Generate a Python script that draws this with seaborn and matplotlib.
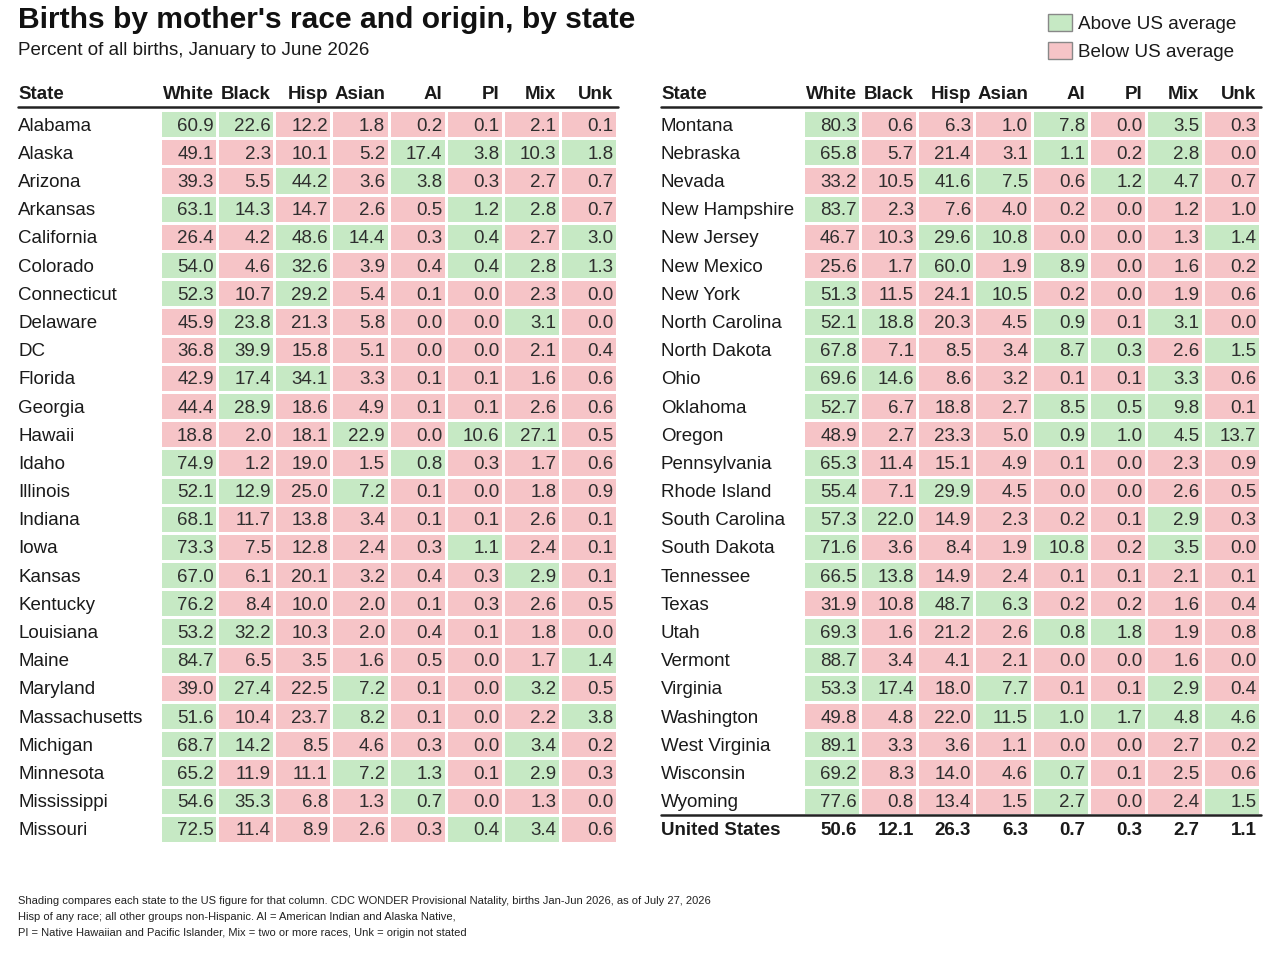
#!/usr/bin/env python3
"""Births by mother's race and origin, by state - shaded table."""
import numpy as np
import pandas as pd
import seaborn as sns
import matplotlib.pyplot as plt
from matplotlib.colors import ListedColormap
from matplotlib.lines import Line2D
from matplotlib.patches import Patch
from matplotlib.transforms import blended_transform_factory

sns.set_theme(style="white")
plt.rcParams["font.family"] = ["Liberation Sans", "DejaVu Sans"]

columns = ["White", "Black", "Hisp", "Asian", "AI", "PI", "Mix", "Unk"]

states = [
    "Alabama", "Alaska", "Arizona", "Arkansas", "California", "Colorado",
    "Connecticut", "Delaware", "DC", "Florida", "Georgia", "Hawaii", "Idaho",
    "Illinois", "Indiana", "Iowa", "Kansas", "Kentucky", "Louisiana", "Maine",
    "Maryland", "Massachusetts", "Michigan", "Minnesota", "Mississippi",
    "Missouri", "Montana", "Nebraska", "Nevada", "New Hampshire", "New Jersey",
    "New Mexico", "New York", "North Carolina", "North Dakota", "Ohio",
    "Oklahoma", "Oregon", "Pennsylvania", "Rhode Island", "South Carolina",
    "South Dakota", "Tennessee", "Texas", "Utah", "Vermont", "Virginia",
    "Washington", "West Virginia", "Wisconsin", "Wyoming",
]

white = [60.9, 49.1, 39.3, 63.1, 26.4, 54.0, 52.3, 45.9, 36.8, 42.9, 44.4, 18.8, 74.9,
         52.1, 68.1, 73.3, 67.0, 76.2, 53.2, 84.7, 39.0, 51.6, 68.7, 65.2, 54.6, 72.5,
         80.3, 65.8, 33.2, 83.7, 46.7, 25.6, 51.3, 52.1, 67.8, 69.6, 52.7, 48.9, 65.3,
         55.4, 57.3, 71.6, 66.5, 31.9, 69.3, 88.7, 53.3, 49.8, 89.1, 69.2, 77.6]
black = [22.6, 2.3, 5.5, 14.3, 4.2, 4.6, 10.7, 23.8, 39.9, 17.4, 28.9, 2.0, 1.2,
         12.9, 11.7, 7.5, 6.1, 8.4, 32.2, 6.5, 27.4, 10.4, 14.2, 11.9, 35.3, 11.4,
         0.6, 5.7, 10.5, 2.3, 10.3, 1.7, 11.5, 18.8, 7.1, 14.6, 6.7, 2.7, 11.4,
         7.1, 22.0, 3.6, 13.8, 10.8, 1.6, 3.4, 17.4, 4.8, 3.3, 8.3, 0.8]
hisp = [12.2, 10.1, 44.2, 14.7, 48.6, 32.6, 29.2, 21.3, 15.8, 34.1, 18.6, 18.1, 19.0,
        25.0, 13.8, 12.8, 20.1, 10.0, 10.3, 3.5, 22.5, 23.7, 8.5, 11.1, 6.8, 8.9,
        6.3, 21.4, 41.6, 7.6, 29.6, 60.0, 24.1, 20.3, 8.5, 8.6, 18.8, 23.3, 15.1,
        29.9, 14.9, 8.4, 14.9, 48.7, 21.2, 4.1, 18.0, 22.0, 3.6, 14.0, 13.4]
asian = [1.8, 5.2, 3.6, 2.6, 14.4, 3.9, 5.4, 5.8, 5.1, 3.3, 4.9, 22.9, 1.5,
         7.2, 3.4, 2.4, 3.2, 2.0, 2.0, 1.6, 7.2, 8.2, 4.6, 7.2, 1.3, 2.6,
         1.0, 3.1, 7.5, 4.0, 10.8, 1.9, 10.5, 4.5, 3.4, 3.2, 2.7, 5.0, 4.9,
         4.5, 2.3, 1.9, 2.4, 6.3, 2.6, 2.1, 7.7, 11.5, 1.1, 4.6, 1.5]
ai = [0.2, 17.4, 3.8, 0.5, 0.3, 0.4, 0.1, 0.0, 0.0, 0.1, 0.1, 0.0, 0.8,
      0.1, 0.1, 0.3, 0.4, 0.1, 0.4, 0.5, 0.1, 0.1, 0.3, 1.3, 0.7, 0.3,
      7.8, 1.1, 0.6, 0.2, 0.0, 8.9, 0.2, 0.9, 8.7, 0.1, 8.5, 0.9, 0.1,
      0.0, 0.2, 10.8, 0.1, 0.2, 0.8, 0.0, 0.1, 1.0, 0.0, 0.7, 2.7]
pi = [0.1, 3.8, 0.3, 1.2, 0.4, 0.4, 0.0, 0.0, 0.0, 0.1, 0.1, 10.6, 0.3,
      0.0, 0.1, 1.1, 0.3, 0.3, 0.1, 0.0, 0.0, 0.0, 0.0, 0.1, 0.0, 0.4,
      0.0, 0.2, 1.2, 0.0, 0.0, 0.0, 0.0, 0.1, 0.3, 0.1, 0.5, 1.0, 0.0,
      0.0, 0.1, 0.2, 0.1, 0.2, 1.8, 0.0, 0.1, 1.7, 0.0, 0.1, 0.0]
mix = [2.1, 10.3, 2.7, 2.8, 2.7, 2.8, 2.3, 3.1, 2.1, 1.6, 2.6, 27.1, 1.7,
       1.8, 2.6, 2.4, 2.9, 2.6, 1.8, 1.7, 3.2, 2.2, 3.4, 2.9, 1.3, 3.4,
       3.5, 2.8, 4.7, 1.2, 1.3, 1.6, 1.9, 3.1, 2.6, 3.3, 9.8, 4.5, 2.3,
       2.6, 2.9, 3.5, 2.1, 1.6, 1.9, 1.6, 2.9, 4.8, 2.7, 2.5, 2.4]
unk = [0.1, 1.8, 0.7, 0.7, 3.0, 1.3, 0.0, 0.0, 0.4, 0.6, 0.6, 0.5, 0.6,
       0.9, 0.1, 0.1, 0.1, 0.5, 0.0, 1.4, 0.5, 3.8, 0.2, 0.3, 0.0, 0.6,
       0.3, 0.0, 0.7, 1.0, 1.4, 0.2, 0.6, 0.0, 1.5, 0.6, 0.1, 13.7, 0.9,
       0.5, 0.3, 0.0, 0.1, 0.4, 0.8, 0.0, 0.4, 4.6, 0.2, 0.6, 1.5]

us_total = [50.6, 12.1, 26.3, 6.3, 0.7, 0.3, 2.7, 1.1]

# rounded ties where the unrounded state figure sits above the US figure
ties_above = [("Texas", "Asian"), ("Mississippi", "AI"),
              ("Wisconsin", "AI"), ("North Dakota", "PI")]

GREEN = "#c6e9c4"
PINK = "#f6c4c7"
NUM_COLOR = "#2e2e2e"
TEXT_COLOR = "#1a1a1a"
FS = 13.5


def build_frame():
    df = pd.DataFrame({"White": white, "Black": black, "Hisp": hisp, "Asian": asian,
                       "AI": ai, "PI": pi, "Mix": mix, "Unk": unk}, index=states)
    flags = df.copy()
    for c, us in zip(columns, us_total):
        flags[c] = (df[c] > us).astype(float)
        for st, col in ties_above:
            if col == c and df.loc[st, c] == us:
                flags.loc[st, c] = 1.0
    return df, flags


def draw_table(fig, ax, vals, flags, label_x, total=None):
    flags = flags.copy()
    mask = np.zeros(flags.shape, dtype=bool)
    if total is not None:
        flags.loc["United States"] = np.nan
        mask = flags.isna().values
    cmap = ListedColormap([PINK, GREEN])
    sns.heatmap(flags, ax=ax, cmap=cmap, vmin=0, vmax=1, cbar=False, mask=mask,
                linewidths=0.85, linecolor="white", xticklabels=False, yticklabels=False)
    nrow = flags.shape[0]
    ax.set_xlim(0, len(columns))
    ax.set_ylim(nrow, 0)

    # column headers
    ax.set_xticks(np.arange(len(columns)) + 0.94)
    ax.set_xticklabels(columns, fontsize=FS, fontweight="bold", ha="right", color=TEXT_COLOR)
    ax.xaxis.tick_top()
    ax.tick_params(axis="x", length=0, pad=5)
    ax.tick_params(axis="y", length=0)

    hdr = blended_transform_factory(fig.transFigure, ax.transAxes)
    ax.text(label_x, 1 + 7 / 733, "State", transform=hdr, fontsize=FS,
            fontweight="bold", ha="left", va="bottom", color=TEXT_COLOR)

    lab = blended_transform_factory(fig.transFigure, ax.transData)
    for i, st in enumerate(vals.index):
        ax.text(label_x, i + 0.5, st, transform=lab, fontsize=FS, ha="left",
                va="center_baseline", color=TEXT_COLOR)
        for j, c in enumerate(columns):
            ax.text(j + 0.94, i + 0.5, f"{vals.loc[st, c]:.1f}", fontsize=FS,
                    ha="right", va="center_baseline", color=NUM_COLOR)

    # header rule
    x1 = ax.get_position().x1
    top_y = ax.get_position().y1 + 3.5 / 957
    fig.add_artist(Line2D([label_x, x1 + 1 / 1280], [top_y, top_y],
                          transform=fig.transFigure, color="#222222", lw=1.8))

    if total is not None:
        row = nrow - 1
        ax.text(label_x, row + 0.5, "United States", transform=lab, fontsize=FS,
                fontweight="bold", ha="left", va="center_baseline", color=TEXT_COLOR)
        for j, v in enumerate(total):
            ax.text(j + 0.94, row + 0.5, f"{v:.1f}", fontsize=FS, fontweight="bold",
                    ha="right", va="center_baseline", color=TEXT_COLOR)
        ax.plot([label_x, x1 + 1 / 1280], [row, row], transform=lab,
                color="#222222", lw=1.8, clip_on=False)


def main():
    vals, flags = build_frame()
    fig = plt.figure(figsize=(12.8, 9.57), dpi=100)

    ax_l = fig.add_axes([160 / 1280, 1 - 843 / 957, 457 / 1280, 733 / 957])
    ax_r = fig.add_axes([803 / 1280, 1 - 843 / 957, 457 / 1280, 733 / 957])

    split = 26
    draw_table(fig, ax_l, vals.iloc[:split], flags.iloc[:split], 18 / 1280)
    draw_table(fig, ax_r, vals.iloc[split:], flags.iloc[split:], 661 / 1280,
               total=us_total)

    fig.text(18 / 1280, 1 - 5.5 / 957, "Births by mother's race and origin, by state",
             fontsize=21.6, fontweight="bold", ha="left", va="top", color="#111111")
    fig.text(18 / 1280, 1 - 42 / 957, "Percent of all births, January to June 2026",
             fontsize=13.5, ha="left", va="top", color=TEXT_COLOR)

    handles = [Patch(facecolor=GREEN, edgecolor="#888888", label="Above US average"),
               Patch(facecolor=PINK, edgecolor="#888888", label="Below US average")]
    fig.legend(handles=handles, loc="upper left", bbox_to_anchor=(1031 / 1280, 1 + 3 / 957),
               frameon=False, fontsize=13.6, handlelength=1.25, handleheight=1.0,
               handletextpad=0.35, labelspacing=0.48, labelcolor=TEXT_COLOR)

    notes = [
        "Shading compares each state to the US figure for that column. CDC WONDER Provisional "
        "Natality, births Jan-Jun 2026, as of July 27, 2026",
        "Hisp of any race; all other groups non-Hispanic. AI = American Indian and Alaska Native,",
        "PI = Native Hawaiian and Pacific Islander, Mix = two or more races, Unk = origin not stated",
    ]
    for k, line in enumerate(notes):
        fig.text(18 / 1280, 1 - (900.5 + 15.5 * k) / 957, line, fontsize=7.97, ha="left",
                 va="center_baseline", color="#222222")

    fig.savefig("out.png", dpi=100, facecolor="white")
    plt.close(fig)


if __name__ == "__main__":
    main()
